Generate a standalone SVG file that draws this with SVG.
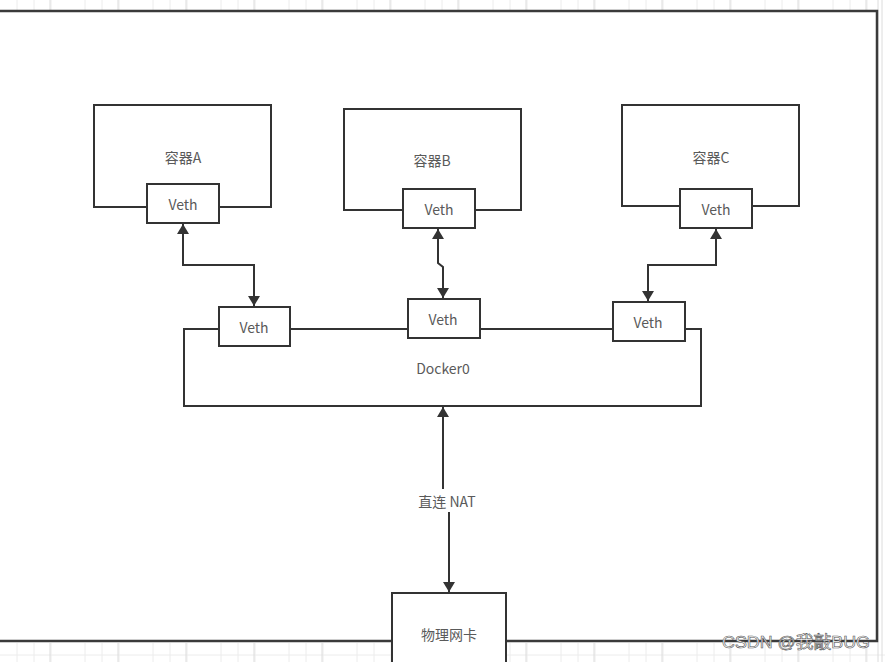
<svg xmlns="http://www.w3.org/2000/svg" width="885" height="662" viewBox="0 0 885 662">
  <defs>
    <style>
      .box { fill: #ffffff; stroke: #333333; stroke-width: 2; }
      .line { fill: none; stroke: #333333; stroke-width: 2; }
      .lbl { font-family: "Noto Sans CJK SC", "Liberation Sans", sans-serif; font-size: 14px; fill: #5a5a5a; text-anchor: middle; dominant-baseline: central; }
      .grid { stroke: #ececec; stroke-width: 1; }
      .grid2 { stroke: #dcdcdc; stroke-width: 1; }
      .wm { font-family: "Liberation Sans", "Noto Sans CJK SC", sans-serif; font-size: 17px; fill: #ffffff; stroke: #555555; stroke-width: 0.6; }
    </style>
    <marker id="ah" viewBox="0 0 10 12" refX="10" refY="6" markerWidth="12" markerHeight="12" orient="auto-start-reverse" markerUnits="userSpaceOnUse">
      <path d="M0,0 L10,6 L0,12 z" fill="#333333"/>
    </marker>
  </defs>
  <rect x="0" y="0" width="885" height="662" fill="#ffffff"/>
  <g id="grid">
    <path class="grid" d="M17,0V10M34,0V10M51,0V10M85,0V10M102,0V10M119,0V10M153,0V10M170,0V10M187,0V10M221,0V10M238,0V10M255,0V10M289,0V10M306,0V10M323,0V10M357,0V10M374,0V10M391,0V10M425,0V10M442,0V10M459,0V10M493,0V10M510,0V10M527,0V10M561,0V10M578,0V10M595,0V10M629,0V10M646,0V10M663,0V10M697,0V10M714,0V10M731,0V10M765,0V10M782,0V10M799,0V10M833,0V10M850,0V10M867,0V10"/>
    <path class="grid2" d="M50,0V10M118,0V10M186,0V10M254,0V10M322,0V10M390,0V10M458,0V10M526,0V10M594,0V10M662,0V10M730,0V10M798,0V10M866,0V10"/>
    <path class="grid" d="M17,643V662M34,643V662M51,643V662M85,643V662M102,643V662M119,643V662M153,643V662M170,643V662M187,643V662M221,643V662M238,643V662M255,643V662M289,643V662M306,643V662M323,643V662M357,643V662M374,643V662M391,643V662M510,643V662M527,643V662M561,643V662M578,643V662M595,643V662M629,643V662M646,643V662M663,643V662M697,643V662M714,643V662M731,643V662M765,643V662M782,643V662M799,643V662M833,643V662M850,643V662M867,643V662M0,655H392M506,655H885"/>
    <path class="grid2" d="M50,643V662M118,643V662M186,643V662M254,643V662M322,643V662M526,643V662M594,643V662M662,643V662M730,643V662M798,643V662M866,643V662M878,0V662M882,0V662"/>
  </g>
  <g id="frame">
    <path d="M-2,11 H877 V641 H506 M392,641 H-2" fill="none" stroke="#3a3a3a" stroke-width="2.5"/>
  </g>
  <g id="containerA">
    <rect class="box" x="94" y="105" width="177" height="102"/>
    <text class="lbl" x="183" y="157">容器A</text>
  </g>
  <g id="vethA">
    <rect class="box" x="147" y="184" width="72" height="39"/>
    <text class="lbl" x="183" y="204">Veth</text>
  </g>
  <g id="containerB">
    <rect class="box" x="344" y="109" width="177" height="101"/>
    <text class="lbl" x="432" y="160">容器B</text>
  </g>
  <g id="vethB">
    <rect class="box" x="403" y="189" width="72" height="39"/>
    <text class="lbl" x="439" y="209">Veth</text>
  </g>
  <g id="containerC">
    <rect class="box" x="622" y="105" width="177" height="101"/>
    <text class="lbl" x="711" y="157">容器C</text>
  </g>
  <g id="vethC">
    <rect class="box" x="680" y="189" width="72" height="39"/>
    <text class="lbl" x="716" y="209">Veth</text>
  </g>
  <g id="docker0">
    <path class="line" d="M219,329 H184 V406 H701 V329 H685 M290,329 H408 M480,329 H613"/>
    <text class="lbl" x="443" y="368">Docker0</text>
  </g>
  <g id="vethD1">
    <rect class="box" x="219" y="307" width="71" height="39"/>
    <text class="lbl" x="254" y="327">Veth</text>
  </g>
  <g id="vethD2">
    <rect class="box" x="408" y="299" width="72" height="39"/>
    <text class="lbl" x="443" y="319">Veth</text>
  </g>
  <g id="vethD3">
    <rect class="box" x="613" y="302" width="72" height="39"/>
    <text class="lbl" x="648" y="322">Veth</text>
  </g>
  <g id="nic">
    <rect class="box" x="392" y="593" width="114" height="80"/>
    <text class="lbl" x="449" y="634">物理网卡</text>
  </g>
  <g id="connectors">
    <path class="line" d="M183,224 V265 H254 V306" marker-start="url(#ah)" marker-end="url(#ah)"/>
    <path class="line" d="M438,229 V263 L443,267 V298" marker-start="url(#ah)" marker-end="url(#ah)"/>
    <path class="line" d="M716,229 V265 H648 V301" marker-start="url(#ah)" marker-end="url(#ah)"/>
    <path class="line" d="M443,407 V489" marker-start="url(#ah)"/>
    <path class="line" d="M449,512 V592" marker-end="url(#ah)"/>
    <text class="lbl" x="447" y="501">直连 NAT</text>
  </g>
  <text class="wm" x="722" y="648" textLength="148" lengthAdjust="spacingAndGlyphs">CSDN @我敲BUG</text>
</svg>
